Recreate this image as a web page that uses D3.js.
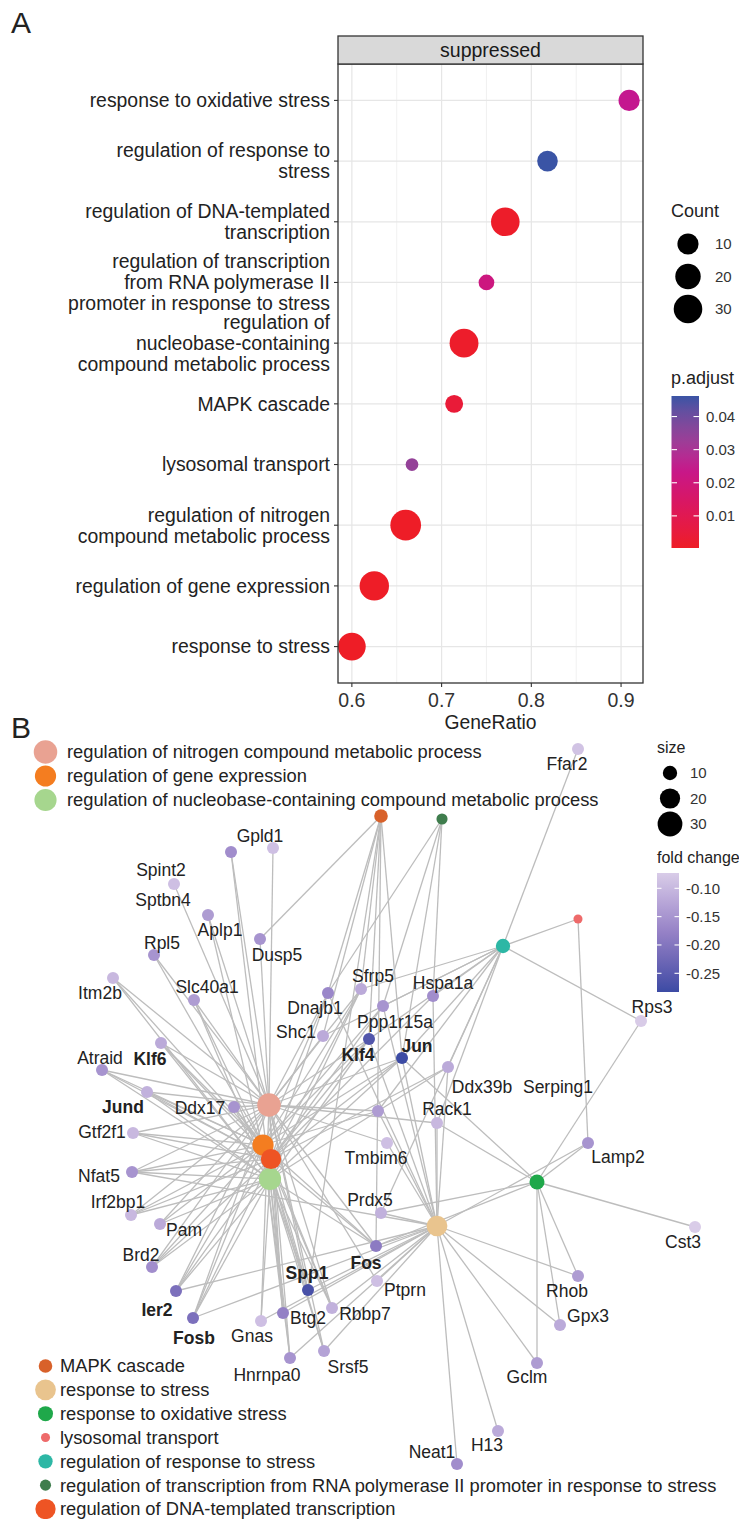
<!DOCTYPE html>
<html>
<head>
<meta charset="utf-8">
<script src="https://cdn.jsdelivr.net/npm/d3@7"></script>
<style>
  body { margin: 0; background: #fff; }
  svg text { font-family: "Liberation Sans", Arial, Helvetica, sans-serif; }
</style>
</head>
<body>
<svg id="chart" width="739" height="1519"></svg>
<script>
// ---- panel A data (GSEA dotplot, "suppressed") ----
var termLabels = [
  "response to oxidative stress",
  "regulation of response to\nstress",
  "regulation of DNA-templated\ntranscription",
  "regulation of transcription\nfrom RNA polymerase II\npromoter in response to stress",
  "regulation of\nnucleobase-containing\ncompound metabolic process",
  "MAPK cascade",
  "lysosomal transport",
  "regulation of nitrogen\ncompound metabolic process",
  "regulation of gene expression",
  "response to stress"
];
var geneRatio = [0.909, 0.818, 0.771, 0.75, 0.725, 0.714, 0.667, 0.66, 0.625, 0.6];
var geneCount = [10, 9, 30, 3, 31, 5, 2, 38, 33, 27];
var pAdjust = [0.025, 0.0462, 0.001, 0.021, 0.0012, 0.004, 0.034, 0.0005, 0.0005, 0.0003];
var xTicks = [0.6, 0.7, 0.8, 0.9];
var xMinorTicks = [0.65, 0.75, 0.85];
var countBreaks = [10, 20, 30];
var pBreaks = [0.01, 0.02, 0.03, 0.04];

// ---- panel B data (cnetplot) ----
var netCats = [
  "regulation of nitrogen compound metabolic process",
  "regulation of gene expression",
  "regulation of nucleobase-containing compound metabolic process",
  "MAPK cascade",
  "response to stress",
  "response to oxidative stress",
  "lysosomal transport",
  "regulation of response to stress",
  "regulation of transcription from RNA polymerase II promoter in response to stress",
  "regulation of DNA-templated transcription"
];
var netCatColor = ["#E9A292", "#F47D20", "#A6D68E", "#D8612A", "#E9C48E",
  "#1FA84A", "#EE6A6A", "#2DB7A5", "#3F7D4D", "#EE5424"];
var netCatSize = [27, 22, 24, 9, 21, 11, 4, 10, 6, 20];
// layout coordinates of category nodes
var netCatX = [269, 263, 270, 381, 437, 537, 578, 503, 442, 271];
var netCatY = [1105, 1145, 1179, 816, 1226, 1182, 919, 946, 819, 1159];

var geneNames = ["Ffar2","Gpld1","Sptbn4","Spint2","Aplp1","Rpl5","Dusp5","Itm2b","Slc40a1","Dnajb1",
  "Sfrp5","Hspa1a","Ppp1r15a","Shc1","Klf4","Jun","Ddx39b","Serping1","Rps3","Klf6",
  "Atraid","Jund","Ddx17","unlabeled","Rack1","Gtf2f1","Tmbim6","Lamp2","Nfat5","Prdx5",
  "Irf2bp1","Pam","Cst3","Fos","Brd2","Rhob","Ptprn","Spp1","Ier2","Rbbp7",
  "Btg2","Fosb","Gnas","Gpx3","Srsf5","Hnrnpa0","Gclm","H13","Neat1"];
var geneFC = [-0.085,-0.09,-0.16,-0.09,-0.14,-0.15,-0.15,-0.10,-0.14,-0.17,
  -0.12,-0.16,-0.15,-0.12,-0.26,-0.283,-0.12,-0.10,-0.075,-0.12,
  -0.15,-0.11,-0.15,-0.14,-0.10,-0.10,-0.09,-0.15,-0.15,-0.11,
  -0.10,-0.12,-0.073,-0.19,-0.16,-0.14,-0.09,-0.27,-0.21,-0.11,
  -0.18,-0.21,-0.09,-0.12,-0.13,-0.15,-0.14,-0.12,-0.16];
// layout coordinates of gene nodes and of their (repelled) labels
var geneX = [578,273,231,174,208,154,260,113,194,328, 361,433,383,323,369,402,448,null,641,161,
  102,147,234,378,437,133,387,588,132,381, 131,160,695,376,152,578,377,308,176,332,
  283,193,261,560,324,290,537,498,457];
var geneY = [749,848,852,884,915,955,939,978,1000,993, 989,996,1006,1036,1039,1058,1067,null,1021,1043,
  1070,1092,1107,1111,1123,1133,1143,1143,1172,1213, 1215,1224,1227,1246,1267,1276,1281,1290,1291,1308,
  1313,1318,1321,1325,1351,1358,1363,1431,1464];
var labelX = [567,260,163,161,220,162,277,100,207,315, 373,443,395,296,358,417,482,558,652,150,
  100,123,200,null,447,102,376,618,99,370, 118,184,683,366,141,567,405,307,157,365,
  308,194,252,588,348,267,527,487,432];
var labelY = [764,836,900,870,930,943,955,993,987,1008, 976,983,1022,1032,1055,1046,1087,1087,1007,1059,
  1058,1107,1108,null,1109,1132,1158,1157,1176,1200, 1202,1230,1242,1263,1255,1291,1290,1273,1310,1314,
  1318,1338,1336,1316,1367,1375,1377,1445,1452];
var boldGenes = ["Klf6", "Jund", "Klf4", "Jun", "Ier2", "Fosb", "Spp1", "Fos"];

var catGenes = [
  ["Gpld1","Sptbn4","Spint2","Aplp1","Rpl5","Itm2b","Slc40a1","Dusp5","Dnajb1","Shc1","Sfrp5","Klf4","Jun",
   "Klf6","Atraid","Jund","Ddx17","Gtf2f1","Nfat5","Irf2bp1","Pam","Brd2","Ier2","Fosb","Gnas","Btg2",
   "Spp1","Hnrnpa0","Rbbp7","Fos","Srsf5","Tmbim6","Rack1","Ptprn","unlabeled"],
  ["Klf6","Jund","Gtf2f1","Nfat5","Irf2bp1","Brd2","Ier2","Fosb","Klf4","Jun","Fos","Btg2","Rbbp7","Ddx17",
   "Sfrp5","Hnrnpa0","Srsf5","Dnajb1","Atraid","Pam","Spp1","Rpl5","Slc40a1","Ppp1r15a","Itm2b","unlabeled"],
  ["Klf6","Jund","Gtf2f1","Nfat5","Irf2bp1","Brd2","Ier2","Fosb","Klf4","Jun","Fos","Btg2","Rbbp7","Ddx17",
   "Sfrp5","Hnrnpa0","Srsf5","Atraid","Pam","Spp1","Slc40a1","Itm2b","Ddx39b","Gnas","Aplp1","Sptbn4"],
  ["Dusp5","Dnajb1","Sfrp5","Shc1","Klf4","Jun","Fos","Spp1"],
  ["Jun","Klf4","Hspa1a","Ppp1r15a","Dnajb1","Ddx39b","Rack1","Tmbim6","unlabeled","Prdx5","Fos","Ptprn",
   "Spp1","Btg2","Rbbp7","Srsf5","Hnrnpa0","Gnas","Neat1","H13","Gclm","Gpx3","Rhob","Lamp2","Nfat5",
   "Ier2","Fosb"],
  ["Rps3","Lamp2","Cst3","Gclm","Gpx3","Rhob","Jun","Rack1","Prdx5","Fos"],
  ["Lamp2"],
  ["Ffar2","Rps3","Sfrp5","Shc1","Klf4","Jun","Hspa1a","Ppp1r15a","Ddx39b","unlabeled","Rack1","Prdx5"],
  ["Dnajb1","Ppp1r15a","Jun","Hspa1a"],
  ["Klf6","Jund","Gtf2f1","Nfat5","Irf2bp1","Brd2","Ier2","Fosb","Klf4","Jun","Fos","Btg2","Rbbp7","Ddx17",
   "Sfrp5","Atraid","Ppp1r15a","Hspa1a","Dnajb1","Spp1","Ddx39b"]
];
var extraEdges = [["regulation of response to stress", "lysosomal transport"]];
var netSizeBreaks = [10, 20, 30];
var fcBreaks = [-0.10, -0.15, -0.20, -0.25];

var svg = d3.select("#chart");
var ink = "#222";

// ================= Panel A =================
svg.append("text").attr("x", 11).attr("y", 33).attr("font-size", 30).attr("fill", ink).text("A");

var plotL = 338, plotR = 643, plotT = 64, plotB = 683;
var ext = d3.extent(geneRatio), pad = (ext[1] - ext[0]) * 0.05;
var x = d3.scaleLinear().domain([ext[0] - pad, ext[1] + pad]).range([plotL, plotR]);
var y = d3.scalePoint().domain(termLabels).range([plotT, plotB]).padding(0.6);

var sizeNorm = d3.scaleLinear().domain(d3.extent(geneCount)).range([0, 1]);
var diam = d3.scaleLinear().domain([0, 1]).range([12.7, 30.7]);
function dotR(c) { return diam(Math.sqrt(Math.max(0, sizeNorm(c)))) / 2; }

var pExt = d3.extent(pAdjust);
var pColor = d3.scaleLinear()
  .domain([pExt[0], 0.025, pExt[1]])
  .range(["#EE1D26", "#C4178F", "#3A54A5"])
  .interpolate(d3.interpolateLab);

var gA = svg.append("g");
gA.append("rect").attr("x", plotL).attr("y", plotT).attr("width", plotR - plotL)
  .attr("height", plotB - plotT).attr("fill", "#fff");

gA.selectAll("line.minor").data(xMinorTicks).enter().append("line")
  .attr("x1", function (d) { return x(d); }).attr("x2", function (d) { return x(d); })
  .attr("y1", plotT).attr("y2", plotB).attr("stroke", "#EBEBEB").attr("stroke-width", 0.7);
gA.selectAll("line.major").data(xTicks).enter().append("line")
  .attr("x1", function (d) { return x(d); }).attr("x2", function (d) { return x(d); })
  .attr("y1", plotT).attr("y2", plotB).attr("stroke", "#E6E6E6").attr("stroke-width", 1.2);
gA.selectAll("line.hgrid").data(termLabels).enter().append("line")
  .attr("x1", plotL).attr("x2", plotR)
  .attr("y1", function (d) { return y(d); }).attr("y2", function (d) { return y(d); })
  .attr("stroke", "#E6E6E6").attr("stroke-width", 1.2);

// dots
var dots = termLabels.map(function (t, i) {
  return { term: t, ratio: geneRatio[i], count: geneCount[i], p: pAdjust[i] };
});
gA.selectAll("circle.dot").data(dots).enter().append("circle")
  .attr("cx", function (d) { return x(d.ratio); })
  .attr("cy", function (d) { return y(d.term); })
  .attr("r", function (d) { return dotR(d.count); })
  .attr("fill", function (d) { return pColor(d.p); });

gA.append("rect").attr("x", plotL).attr("y", plotT).attr("width", plotR - plotL)
  .attr("height", plotB - plotT).attr("fill", "none").attr("stroke", "#333").attr("stroke-width", 1.3);

// strip
gA.append("rect").attr("x", plotL).attr("y", 36).attr("width", plotR - plotL).attr("height", plotT - 36)
  .attr("fill", "#D9D9D9").attr("stroke", "#333").attr("stroke-width", 1.3);
gA.append("text").attr("x", (plotL + plotR) / 2).attr("y", 50).attr("dy", "0.35em")
  .attr("text-anchor", "middle").attr("font-size", 19.5).attr("fill", "#1a1a1a").text("suppressed");

// y axis labels
var lh = 21;
termLabels.forEach(function (t) {
  var lines = t.split("\n");
  var tk = gA.append("text").attr("text-anchor", "end").attr("font-size", 19.4).attr("fill", ink);
  lines.forEach(function (ln, i) {
    tk.append("tspan").attr("x", plotL - 8)
      .attr("y", y(t) + (i - (lines.length - 1) / 2) * lh).attr("dy", "0.35em").text(ln);
  });
  gA.append("line").attr("x1", plotL - 4).attr("x2", plotL).attr("y1", y(t)).attr("y2", y(t))
    .attr("stroke", "#333").attr("stroke-width", 1.1);
});

// x axis
xTicks.forEach(function (v) {
  gA.append("line").attr("x1", x(v)).attr("x2", x(v)).attr("y1", plotB).attr("y2", plotB + 4)
    .attr("stroke", "#333").attr("stroke-width", 1.1);
  gA.append("text").attr("x", x(v)).attr("y", 700).attr("dy", "0.35em").attr("text-anchor", "middle")
    .attr("font-size", 19.5).attr("fill", "#333").text(d3.format(".1f")(v));
});
gA.append("text").attr("x", (plotL + plotR) / 2).attr("y", 722).attr("dy", "0.35em")
  .attr("text-anchor", "middle").attr("font-size", 19.3).attr("fill", ink).text("GeneRatio");

// Count legend
gA.append("text").attr("x", 671).attr("y", 211).attr("dy", "0.35em").attr("font-size", 18)
  .attr("fill", ink).text("Count");
var countY = d3.scalePoint().domain(countBreaks).range([244, 309]);
countBreaks.forEach(function (c) {
  gA.append("circle").attr("cx", 688).attr("cy", countY(c)).attr("r", dotR(c)).attr("fill", "#000");
  gA.append("text").attr("x", 715).attr("y", countY(c)).attr("dy", "0.35em").attr("font-size", 15)
    .attr("fill", "#333").text(c);
});

// p.adjust colorbar
gA.append("text").attr("x", 671).attr("y", 378).attr("dy", "0.35em").attr("font-size", 18)
  .attr("fill", ink).text("p.adjust");
var barY = d3.scaleLinear().domain(pExt).range([548, 396]);
var defs = svg.append("defs");
var gradP = defs.append("linearGradient").attr("id", "gradP")
  .attr("x1", 0).attr("y1", 1).attr("x2", 0).attr("y2", 0);
d3.range(0, 1.0001, 0.1).forEach(function (t) {
  gradP.append("stop").attr("offset", t)
    .attr("stop-color", pColor(pExt[0] + t * (pExt[1] - pExt[0])));
});
gA.append("rect").attr("x", 671.5).attr("y", 396).attr("width", 27.5).attr("height", 152)
  .attr("fill", "url(#gradP)");
pBreaks.forEach(function (v) {
  [[671.5, 677], [693.5, 699]].forEach(function (s) {
    gA.append("line").attr("x1", s[0]).attr("x2", s[1]).attr("y1", barY(v)).attr("y2", barY(v))
      .attr("stroke", "#fff").attr("stroke-width", 1.1);
  });
  gA.append("text").attr("x", 706).attr("y", barY(v)).attr("dy", "0.35em").attr("font-size", 15)
    .attr("fill", "#333").text(d3.format(".2f")(v));
});

// ================= Panel B =================
svg.append("text").attr("x", 11).attr("y", 738).attr("font-size", 30).attr("fill", ink).text("B");

var gB = svg.append("g");
var nx = d3.scaleLinear().domain([0, 739]).range([0, 739]);
var ny = d3.scaleLinear().domain([730, 1519]).range([730, 1519]);
var netR = d3.scaleSqrt().domain([0, 30]).range([0, 12.4]);
var fcExt = d3.extent(geneFC);
var fcColor = d3.scaleLinear()
  .domain([fcExt[0], (fcExt[0] + fcExt[1]) / 2, fcExt[1]])
  .range(["#3C4BA4", "#9581C6", "#D9CCE8"])
  .interpolate(d3.interpolateLab);

var cats = netCats.map(function (c, i) {
  return { name: c, x: netCatX[i], y: netCatY[i], size: netCatSize[i], color: netCatColor[i] };
});
var genes = geneNames.map(function (g, i) {
  return { name: g, x: geneX[i], y: geneY[i], fc: geneFC[i], lx: labelX[i], ly: labelY[i] };
});
var nodeByName = {};
cats.forEach(function (c) { nodeByName[c.name] = c; });
genes.forEach(function (g) { nodeByName[g.name] = g; });

var edges = [];
catGenes.forEach(function (list, i) {
  list.forEach(function (g) { edges.push([cats[i], nodeByName[g]]); });
});
extraEdges.forEach(function (e) { edges.push([nodeByName[e[0]], nodeByName[e[1]]]); });

gB.selectAll("line.edge").data(edges).enter().append("line")
  .attr("x1", function (d) { return nx(d[0].x); }).attr("y1", function (d) { return ny(d[0].y); })
  .attr("x2", function (d) { return nx(d[1].x); }).attr("y2", function (d) { return ny(d[1].y); })
  .attr("stroke", "#BDBDBD").attr("stroke-width", 1.3);

gB.selectAll("circle.cat").data(cats).enter().append("circle")
  .attr("cx", function (d) { return nx(d.x); }).attr("cy", function (d) { return ny(d.y); })
  .attr("r", function (d) { return netR(d.size); })
  .attr("fill", function (d) { return d.color; });

gB.selectAll("circle.gene").data(genes.filter(function (g) { return g.x != null; })).enter()
  .append("circle")
  .attr("cx", function (d) { return nx(d.x); }).attr("cy", function (d) { return ny(d.y); })
  .attr("r", 6).attr("fill", function (d) { return fcColor(d.fc); });

gB.selectAll("text.gene").data(genes.filter(function (g) { return g.lx != null; })).enter()
  .append("text")
  .attr("x", function (d) { return nx(d.lx); }).attr("y", function (d) { return ny(d.ly); })
  .attr("dy", "0.35em").attr("text-anchor", "middle").attr("font-size", 17.5).attr("fill", ink)
  .attr("font-weight", function (d) { return boldGenes.indexOf(d.name) >= 0 ? "bold" : "normal"; })
  .text(function (d) { return d.name; });

// category legends
var topIdx = [0, 1, 2], botIdx = [3, 4, 5, 6, 7, 8, 9];
var topY = d3.scalePoint().domain(topIdx).range([752, 800]);
var botY = d3.scalePoint().domain(botIdx).range([1366, 1509]);
function catLegend(idx, ys, tx) {
  idx.forEach(function (i) {
    gB.append("circle").attr("cx", 45.5).attr("cy", ys(i)).attr("r", netR(cats[i].size))
      .attr("fill", cats[i].color);
    gB.append("text").attr("x", tx).attr("y", ys(i)).attr("dy", "0.35em").attr("font-size", 18.3)
      .attr("fill", ink).text(cats[i].name);
  });
}
catLegend(topIdx, topY, 67);
catLegend(botIdx, botY, 60);

// size legend
gB.append("text").attr("x", 657).attr("y", 747).attr("dy", "0.35em").attr("font-size", 16)
  .attr("fill", ink).text("size");
var sizeY = d3.scalePoint().domain(netSizeBreaks).range([773, 824]);
netSizeBreaks.forEach(function (s) {
  gB.append("circle").attr("cx", 670).attr("cy", sizeY(s)).attr("r", netR(s)).attr("fill", "#000");
  gB.append("text").attr("x", 690).attr("y", sizeY(s)).attr("dy", "0.35em").attr("font-size", 15)
    .attr("fill", "#333").text(s);
});

// fold change colorbar
gB.append("text").attr("x", 657).attr("y", 857).attr("dy", "0.35em").attr("font-size", 16)
  .attr("fill", ink).text("fold change");
var fcY = d3.scaleLinear().domain(fcExt).range([992, 873]);
var gradF = defs.append("linearGradient").attr("id", "gradF")
  .attr("x1", 0).attr("y1", 1).attr("x2", 0).attr("y2", 0);
d3.range(0, 1.0001, 0.1).forEach(function (t) {
  gradF.append("stop").attr("offset", t)
    .attr("stop-color", fcColor(fcExt[0] + t * (fcExt[1] - fcExt[0])));
});
gB.append("rect").attr("x", 657).attr("y", 873).attr("width", 22).attr("height", 119)
  .attr("fill", "url(#gradF)");
fcBreaks.forEach(function (v) {
  [[657, 661.5], [674.5, 679]].forEach(function (s) {
    gB.append("line").attr("x1", s[0]).attr("x2", s[1]).attr("y1", fcY(v)).attr("y2", fcY(v))
      .attr("stroke", "#fff").attr("stroke-width", 1.1);
  });
  gB.append("text").attr("x", 686).attr("y", fcY(v)).attr("dy", "0.35em").attr("font-size", 15)
    .attr("fill", "#333").text(d3.format(".2f")(v).replace("\u2212", "-"));
});
</script>
</body>
</html>
